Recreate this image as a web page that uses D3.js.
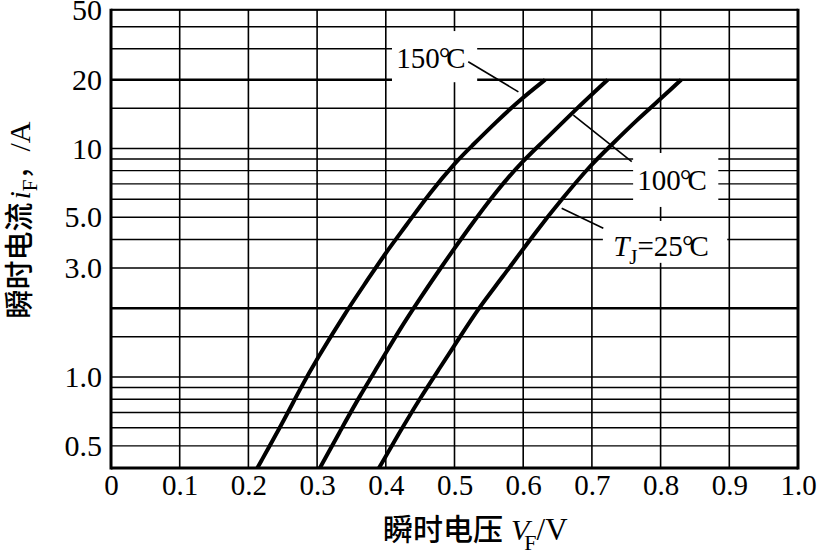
<!DOCTYPE html>
<html><head><meta charset="utf-8">
<script src="https://cdn.jsdelivr.net/npm/d3@7"></script>
<style>body{margin:0;background:#fff} svg{display:block}</style>
</head><body><svg id="c" width="817" height="555"></svg>
<script>
// ---- data ----
const xTicks = [0, 0.1, 0.2, 0.3, 0.4, 0.5, 0.6, 0.7, 0.8, 0.9, 1.0];
const xTickLabels = ["0", "0.1", "0.2", "0.3", "0.4", "0.5", "0.6", "0.7", "0.8", "0.9", "1.0"];
const yGrid = [0.4, 0.5, 0.6, 0.7, 0.8, 0.9, 1, 1.5, 2, 3, 4, 5, 6, 7, 8, 9, 10, 15, 20, 30, 40, 50];
const yMajor = [2, 20];
const yTickValues = [0.5, 1, 3, 5, 10, 20, 50];
const yTickLabels = ["0.5", "1.0", "3.0", "5.0", "10", "20", "50"];

const v150 = [0.213, 0.251, 0.275, 0.299, 0.343, 0.372, 0.399, 0.430, 0.464, 0.503, 0.523, 0.561, 0.595, 0.632];
const i150 = [0.4, 0.64, 0.885, 1.19, 1.95, 2.62, 3.47, 4.62, 6.4, 8.81, 10.1, 13.1, 16.3, 20];
const v100 = [0.304, 0.333, 0.362, 0.392, 0.421, 0.450, 0.479, 0.523, 0.561, 0.600, 0.629, 0.673, 0.723];
const i100 = [0.4, 0.576, 0.826, 1.16, 1.63, 2.21, 2.98, 4.58, 6.52, 8.87, 10.7, 14.5, 20];
const v25 = [0.390, 0.421, 0.450, 0.479, 0.508, 0.537, 0.566, 0.620, 0.658, 0.697, 0.726, 0.765, 0.804, 0.830];
const i25 = [0.4, 0.579, 0.81, 1.10, 1.50, 2.04, 2.64, 4.39, 6.09, 8.39, 10.2, 13.3, 16.9, 20];

// annotation anchors (data units)
const annX = [0.4656, 0.8166, 0.8006];
const annY = [26.6, 7.29, 3.75];
const boxX0 = [0.409, 0.760, 0.716], boxX1 = [0.533, 0.884, 0.897];
const boxYTop = [37.8, 9.56, 4.82], boxYBot = [19.5, 5.55, 3.16];
const leadFromX = [0.520, 0.758, 0.7166], leadFromY = [25.3, 8.76, 4.48];
const leadToX = [0.593, 0.673, 0.656], leadToY = [17.7, 14.0, 5.48];

// ---- layout ----
const L = 111, R = 798, T = 9.7, B = 468;
const svg = d3.select("#c");
const x = d3.scaleLinear().domain([0, 1]).range([L, R]);
const y = d3.scaleLog().domain([0.4, 20, 50]).range([B, 79.7, T]);

const serif = "'Liberation Serif','Times New Roman',serif";
const cjk = "'Noto Sans CJK SC',sans-serif";

// grid
svg.append("g").selectAll("line").data(yGrid).join("line")
  .attr("x1", L).attr("x2", R).attr("y1", d => y(d)).attr("y2", d => y(d))
  .attr("stroke", "#000").attr("stroke-width", d => yMajor.includes(d) ? 2.4 : 1.4);
svg.append("g").selectAll("line").data(xTicks).join("line")
  .attr("x1", d => x(d)).attr("x2", d => x(d)).attr("y1", T).attr("y2", B)
  .attr("stroke", "#000").attr("stroke-width", 1.6);

// frame
svg.append("line").attr("x1", L).attr("x2", R).attr("y1", T).attr("y2", T).attr("stroke", "#000").attr("stroke-width", 2);
svg.append("line").attr("x1", L).attr("x2", L).attr("y1", T - 1).attr("y2", B + 1.5).attr("stroke", "#000").attr("stroke-width", 3);
svg.append("line").attr("x1", R).attr("x2", R).attr("y1", T - 1).attr("y2", B + 1.5).attr("stroke", "#000").attr("stroke-width", 3);
svg.append("line").attr("x1", L).attr("x2", R).attr("y1", B).attr("y2", B).attr("stroke", "#000").attr("stroke-width", 3);

// label boxes (white masks)
svg.append("g").selectAll("rect").data(annX).join("rect")
  .attr("x", (d, i) => x(boxX0[i])).attr("width", (d, i) => x(boxX1[i]) - x(boxX0[i]))
  .attr("y", (d, i) => y(boxYTop[i])).attr("height", (d, i) => y(boxYBot[i]) - y(boxYTop[i]))
  .attr("fill", "#fff");

// axes labels
const yAxis = d3.axisLeft(y).tickValues(yTickValues).tickFormat((d, i) => yTickLabels[i]).tickSize(0).tickPadding(8);
const gy = svg.append("g").attr("transform", `translate(${L - 1},0)`).call(yAxis);
gy.select(".domain").remove();
gy.selectAll("text").attr("font-family", serif).attr("font-size", 30).attr("fill", "#000");

const xAxis = d3.axisBottom(x).tickValues(xTicks).tickFormat((d, i) => xTickLabels[i]).tickSize(0).tickPadding(6);
const gx = svg.append("g").attr("transform", `translate(0,${B})`).call(xAxis);
gx.select(".domain").remove();
gx.selectAll("text").attr("font-family", serif).attr("font-size", 29).attr("fill", "#000");

// curves
const series = [[v150, i150], [v100, i100], [v25, i25]];
const line = d3.line().x(d => x(d[0])).y(d => y(d[1])).curve(d3.curveBasis);
svg.append("g").selectAll("path").data(series).join("path")
  .attr("d", s => line(s[0].map((v, i) => [v, s[1][i]])))
  .attr("fill", "none").attr("stroke", "#000").attr("stroke-width", 4).attr("stroke-linecap", "butt");

// leaders
svg.append("g").selectAll("line").data(annX).join("line")
  .attr("x1", (d, i) => x(leadFromX[i])).attr("y1", (d, i) => y(leadFromY[i]))
  .attr("x2", (d, i) => x(leadToX[i])).attr("y2", (d, i) => y(leadToY[i]))
  .attr("stroke", "#000").attr("stroke-width", 1.6);

// annotation texts
function ann(i) {
  return svg.append("text").attr("x", x(annX[i])).attr("y", y(annY[i])).attr("dy", "0.35em")
    .attr("text-anchor", "middle").attr("font-family", serif).attr("font-size", 29).attr("fill", "#000");
}
function deg(t) {
  t.append("tspan").attr("dx", -1).text("°");
  t.append("tspan").attr("dx", -4).text("C");
}
let t0 = ann(0); t0.append("tspan").text("150"); deg(t0);
let t1 = ann(1); t1.append("tspan").text("100"); deg(t1);
let t2 = ann(2);
t2.append("tspan").attr("font-style", "italic").text("T");
t2.append("tspan").attr("font-size", 21).attr("dy", 8).text("J");
t2.append("tspan").attr("dy", -8).text("=25");
deg(t2);

// x title
const xt = svg.append("text").attr("x", 383).attr("y", 540).attr("fill", "#000");
xt.append("tspan").attr("font-family", cjk).attr("font-weight", 500).attr("font-size", 30).text("瞬时电压");
xt.append("tspan").attr("font-family", serif).attr("font-size", 30).attr("font-style", "italic").attr("dx", 8).text("V");
xt.append("tspan").attr("font-family", serif).attr("font-size", 22).attr("dy", 10).attr("dx", -5).text("F");
xt.append("tspan").attr("font-family", serif).attr("font-size", 31).attr("dy", -10).text("/V");

// y title
const yt = svg.append("text").attr("transform", "translate(30,220) rotate(-90)").attr("text-anchor", "middle").attr("fill", "#000");
yt.append("tspan").attr("font-family", cjk).attr("font-weight", 500).attr("font-size", 29).text("瞬时电流");
yt.append("tspan").attr("font-family", serif).attr("font-size", 30).attr("font-style", "italic").attr("dx", 3).text("i");
yt.append("tspan").attr("font-family", serif).attr("font-size", 21).attr("dy", 7).text("F");
yt.append("tspan").attr("font-family", cjk).attr("font-size", 28).attr("dy", -7).text("，");
yt.append("tspan").attr("font-family", serif).attr("font-size", 30).text("/A");
</script></body></html>
